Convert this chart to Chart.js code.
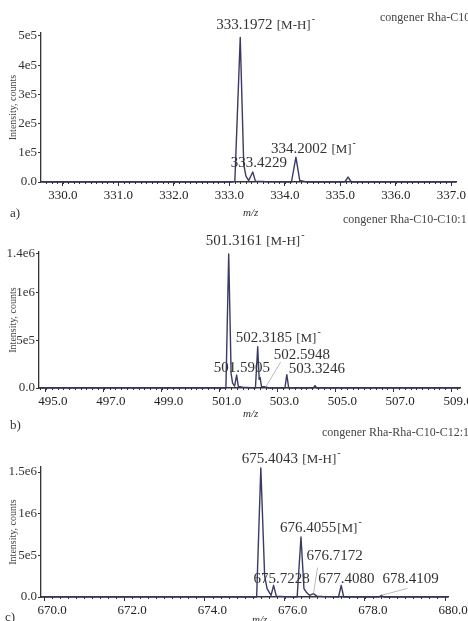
<!DOCTYPE html>
<html>
<head>
<meta charset="utf-8">
<script src="https://cdn.jsdelivr.net/npm/chart.js@4"></script>
<style>
  html, body { margin: 0; padding: 0; background: #fff; }
  body { width: 468px; height: 621px; position: relative; overflow: hidden; font-family: "Liberation Serif", serif; color: #333; }
  canvas { position: absolute; left: 0; }
  .txt { position: absolute; white-space: nowrap; line-height: 1; }
  .note { font-size: 12px; color: #444; }
  .tag { font-size: 13px; }
  .mz { font-size: 11px; font-style: italic; }
</style>
</head>
<body>
<canvas id="chartA" width="468" height="215" style="top:0"></canvas>
<canvas id="chartB" width="468" height="213" style="top:215px"></canvas>
<canvas id="chartC" width="468" height="193" style="top:428px"></canvas>

<div class="txt note" style="left:380px;top:11px">congener Rha-C10-C10</div>
<div class="txt mz" style="left:243px;top:207px">m/z</div>
<div class="txt tag" style="left:10px;top:206px">a)</div>

<div class="txt note" style="left:343px;top:213px">congener Rha-C10-C10:1</div>
<div class="txt mz" style="left:243px;top:408px">m/z</div>
<div class="txt tag" style="left:10px;top:418px">b)</div>

<div class="txt note" style="left:322px;top:426px">congener Rha-Rha-C10-C12:1</div>
<div class="txt mz" style="left:252px;top:614px">m/z</div>
<div class="txt tag" style="left:5px;top:610px">c)</div>

<script>
// a) profile spectrum, m/z and intensity (counts)
const mzA = [329.62, 333.05, 333.10, 333.1972, 333.26, 333.30, 333.35, 333.4229, 333.47, 333.60, 333.70,
  334.12, 334.2002, 334.27, 334.35, 334.40, 335.08, 335.14, 335.20, 337.09];
const intA = [0, 0, 2000, 495000, 60000, 20000, 5000, 34000, 3000, 2000, 500,
  0, 85000, 5000, 2000, 0, 0, 17000, 0, 0];
const peaksA = ["333.1972", "333.4229", "334.2002"];
const tagsA = [" [M-H]", "", " [M]"];
const xTicksA = [330, 331, 332, 333, 334, 335, 336, 337];
const yTicksA = [0, 1e5, 2e5, 3e5, 4e5, 5e5];
const yTickLabelsA = ["0.0", "1e5", "2e5", "3e5", "4e5", "5e5"];

// b)
const mzB = [494.76, 501.22, 501.3161, 501.40, 501.45, 501.52, 501.5905, 501.65, 501.80, 502.24, 502.3185,
  502.37, 502.40, 502.45, 502.5948, 502.70, 503.26, 503.3246, 503.39, 504.24, 504.30, 504.36, 509.31];
const intB = [0, 0, 1400000, 150000, 50000, 20000, 135000, 15000, 8000, 0, 430000,
  90000, 110000, 15000, 10000, 0, 0, 140000, 0, 0, 25000, 0, 0];
const peaksB = ["501.3161", "501.5905", "502.3185", "502.5948", "503.3246"];
const tagsB = [" [M-H]", "", " [M]", "", ""];
const xTicksB = [495, 497, 499, 501, 503, 505, 507, 509];
const yTicksB = [0, 5e5, 1e6, 1.4e6];
const yTickLabelsB = ["0.0", "5e5", "1e6", "1.4e6"];

// c)
const mzC = [669.93, 675.30, 675.4043, 675.50, 675.56, 675.66, 675.7228, 675.79, 676.00, 676.31, 676.4055,
  676.48, 676.55, 676.62, 676.7172, 676.80, 677.00, 677.34, 677.4080, 677.47, 678.35, 678.4109, 678.47, 680.07];
const intC = [0, 0, 1550000, 250000, 100000, 20000, 140000, 10000, 5000, 0, 720000,
  100000, 50000, 20000, 40000, 10000, 5000, 0, 140000, 0, 0, 20000, 0, 0];
const peaksC = ["675.4043", "675.7228", "676.4055", "676.7172", "677.4080", "678.4109"];
const tagsC = [" [M-H]", "", "[M]", "", "", ""];
const xTicksC = [670, 672, 674, 676, 678, 680];
const yTicksC = [0, 5e5, 1e6, 1.5e6];
const yTickLabelsC = ["0.0", "5e5", "1e6", "1.5e6"];

// where each peak label sits relative to its apex (px)
const labelPosA = {
  "333.1972": { dx: -24, dy: -8 },
  "333.4229": { dx: -22, dy: -5 },
  "334.2002": { dx: -25, dy: -4 },
};
const labelPosB = {
  "501.3161": { dx: -23, dy: -9 },
  "501.5905": { dx: -23, dy: -3 },
  "502.3185": { dx: -22, dy: -5 },
  "502.5948": { dx: 8, dy: -28, leader: [15, -25] },
  "503.3246": { dx: 2, dy: -2 },
};
const labelPosC = {
  "675.4043": { dx: -19, dy: -5 },
  "675.7228": { dx: -20, dy: -2 },
  "676.4055": { dx: -21, dy: -5 },
  "676.7172": { dx: -7, dy: -34, leader: [4, -26] },
  "677.4080": { dx: -23, dy: -2 },
  "678.4109": { dx: 1, dy: -12, leader: [26, -7] },
};

const SERIF = "'Liberation Serif', serif";
const INK = "#333";

const peakLabels = {
  id: "peakLabels",
  afterDatasetsDraw(chart, args, opts) {
    const { ctx } = chart;
    const x = chart.scales.x;
    const y = chart.scales.y;
    ctx.save();
    ctx.fillStyle = INK;
    ctx.textBaseline = "alphabetic";
    opts.peaks.forEach((lab, i) => {
      const mz = parseFloat(lab);
      const k = opts.mz.indexOf(mz);
      const px = x.getPixelForValue(mz);
      const py = y.getPixelForValue(opts.intensity[k]);
      const p = opts.pos[lab];
      let tx = px + p.dx;
      const ty = py + p.dy;
      ctx.font = "15px " + SERIF;
      ctx.fillText(lab, tx, ty);
      tx += ctx.measureText(lab).width;
      const tag = opts.tags[i];
      if (tag) {
        ctx.font = "13px " + SERIF;
        ctx.fillText(tag, tx + 1, ty);
        tx += ctx.measureText(tag).width + 2;
        ctx.font = "10px " + SERIF;
        ctx.fillText("-", tx, ty - 7);
      }
      if (p.leader) {
        ctx.strokeStyle = "#aaa";
        ctx.lineWidth = 0.8;
        ctx.beginPath();
        ctx.moveTo(px + p.leader[0], py + p.leader[1]);
        ctx.lineTo(px, py);
        ctx.stroke();
      }
    });
    ctx.restore();
  },
};

const minorTicks = {
  id: "minorTicks",
  afterDraw(chart, args, opts) {
    const { ctx, chartArea } = chart;
    const x = chart.scales.x;
    ctx.save();
    ctx.strokeStyle = INK;
    ctx.lineWidth = 1;
    ctx.beginPath();
    const first = Math.ceil(x.min / opts.step);
    const last = Math.floor(x.max / opts.step);
    for (let i = first; i <= last; i++) {
      const px = Math.round(x.getPixelForValue(i * opts.step)) + 0.5;
      ctx.moveTo(px, chartArea.bottom);
      ctx.lineTo(px, chartArea.bottom + 2);
    }
    ctx.stroke();
    ctx.restore();
  },
};

const drawSpectrum = (canvas, p) =>
  new Chart(canvas, {
    type: "line",
    data: {
      datasets: [
        {
          data: p.mz.map((m, i) => ({ x: m, y: p.intensity[i] })),
          borderColor: "#3a3a66",
          borderWidth: 1.4,
          borderJoinStyle: "round",
          pointRadius: 0,
          tension: 0,
          fill: false,
          clip: false,
        },
      ],
    },
    options: {
      responsive: false,
      animation: false,
      devicePixelRatio: 1,
      layout: { padding: { top: p.top, right: p.right, left: 0, bottom: 0 } },
      plugins: {
        legend: { display: false },
        tooltip: { enabled: false },
        peakLabels: { peaks: p.peaks, tags: p.tags, pos: p.pos, mz: p.mz, intensity: p.intensity },
        minorTicks: { step: p.minor },
      },
      scales: {
        x: {
          type: "linear",
          min: p.xMin,
          max: p.xMax,
          afterFit: (s) => { s.height = p.xHeight; },
          afterBuildTicks: (s) => { s.ticks = p.xTicks.map((v) => ({ value: v })); },
          grid: { drawOnChartArea: false, tickLength: 4, color: INK },
          border: { color: INK, width: 1.6 },
          ticks: {
            autoSkip: false,
            maxRotation: 0,
            padding: 2,
            labelOffset: p.labelOffset,
            color: "#222",
            font: { family: SERIF, size: 13 },
            callback: (v) => Number(v).toFixed(1),
          },
        },
        y: {
          min: 0,
          max: p.yMax,
          afterFit: (s) => { s.width = p.yWidth; },
          afterBuildTicks: (s) => { s.ticks = p.yTicks.map((v) => ({ value: v })); },
          grid: { drawOnChartArea: false, tickLength: 3, color: INK },
          border: { color: INK, width: 1.3 },
          title: {
            display: true,
            text: "Intensity, counts",
            color: "#444",
            font: { family: SERIF, size: 10 },
            padding: { top: 7, bottom: 0 },
          },
          ticks: {
            padding: 1,
            color: "#333",
            font: { family: SERIF, size: 13 },
            callback: (v) => p.yLabels[p.yTicks.indexOf(v)],
          },
        },
      },
    },
    plugins: [peakLabels, minorTicks],
  });

drawSpectrum(document.getElementById("chartA"), {
  mz: mzA, intensity: intA, peaks: peaksA, tags: tagsA, pos: labelPosA,
  xTicks: xTicksA, yTicks: yTicksA, yLabels: yTickLabelsA,
  xMin: 329.607, xMax: 337.09, yMax: 5.1e5, minor: 0.1,
  top: 33, right: 8, xHeight: 33, yWidth: 41, labelOffset: 0,
});

drawSpectrum(document.getElementById("chartB"), {
  mz: mzB, intensity: intB, peaks: peaksB, tags: tagsB, pos: labelPosB,
  xTicks: xTicksB, yTicks: yTicksB, yLabels: yTickLabelsB,
  xMin: 494.76, xMax: 509.31, yMax: 1.42e6, minor: 0.2,
  top: 37, right: 8, xHeight: 40, yWidth: 39, labelOffset: 7,
});

drawSpectrum(document.getElementById("chartC"), {
  mz: mzC, intensity: intC, peaks: peaksC, tags: tagsC, pos: labelPosC,
  xTicks: xTicksC, yTicks: yTicksC, yLabels: yTickLabelsC,
  xMin: 669.925, xMax: 680.07, yMax: 1.56e6, minor: 0.2,
  top: 39, right: 20, xHeight: 24, yWidth: 41, labelOffset: 8,
});
</script>
</body>
</html>
